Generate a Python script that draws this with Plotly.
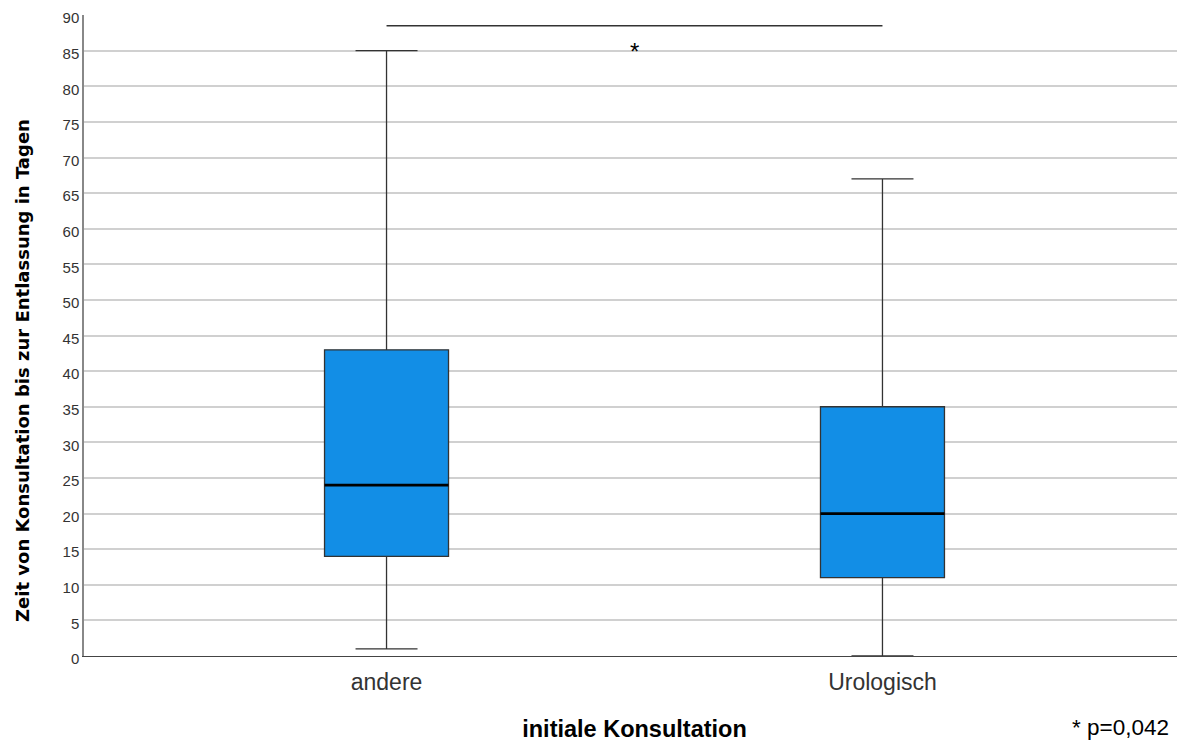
import plotly.graph_objects as go

categories = ["andere", "Urologisch"]
lower = [1, 0]
q1 = [14, 11]
median = [24, 20]
q3 = [43, 35]
upper = [85, 67]
y_ticks = list(range(0, 95, 5))
sig_level = 88.5
sig_text = "*"
p_text = "* p=0,042"
y_title = "<b>Zeit von Konsultation bis zur Entlassung in Tagen</b>"

xpos = list(range(len(categories)))
half = 0.125

fig = go.Figure()
fig.add_trace(go.Box(
    x=xpos, q1=q1, median=median, q3=q3, lowerfence=lower, upperfence=upper,
    width=2 * half, whiskerwidth=0.5,
    fillcolor="rgb(18,142,230)",
    line=dict(color="#333333", width=1.3),
    boxpoints=False, hoverinfo="skip", showlegend=False,
))
for i, m in enumerate(median):
    fig.add_trace(go.Scatter(
        x=[xpos[i] - half, xpos[i] + half], y=[m, m], mode="lines",
        line=dict(color="black", width=2.8), showlegend=False, hoverinfo="skip",
    ))
# significance bar
fig.add_trace(go.Scatter(
    x=[xpos[0], xpos[1]], y=[sig_level, sig_level], mode="lines",
    line=dict(color="#333333", width=1.3), showlegend=False, hoverinfo="skip",
))
fig.add_annotation(x=(xpos[0] + xpos[1]) / 2, y=sig_level, text=sig_text,
                   showarrow=False, yanchor="top", yshift=-10,
                   font=dict(family="Liberation Sans, Arial", size=24, color="black"))
fig.add_annotation(xref="paper", yref="paper", x=0.9875, y=-0.112, xanchor="right",
                   yanchor="middle", text=p_text, showarrow=False,
                   font=dict(family="Liberation Sans, Arial", size=22.5, color="black"))
# y-axis title (placed as annotation to match the offset position)
fig.add_annotation(xref="paper", yref="paper", x=0, xshift=-62, y=0.4446,
                   xanchor="center", yanchor="middle", textangle=-90,
                   text=y_title, showarrow=False,
                   font=dict(family="DejaVu Sans", size=18, color="black"))

fig.update_layout(
    width=1177, height=734,
    margin=dict(l=76, r=0, t=7, b=86),
    plot_bgcolor="white", paper_bgcolor="white",
    font=dict(family="Liberation Sans, Arial", color="#333333"),
    xaxis=dict(
        range=[-0.61, 1.61], tickvals=xpos, ticktext=categories,
        showgrid=False, zeroline=False, showline=True, linecolor="#444444", linewidth=1,
        ticks="", ticklabelstandoff=5, tickfont=dict(size=23, color="#333333"),
        automargin=False,
        title=dict(text="<b>initiale Konsultation</b>",
                   font=dict(family="Liberation Sans, Arial", size=23.5, color="black"),
                   standoff=26),
    ),
    yaxis=dict(
        range=[0, 90.01], tickvals=y_ticks, showgrid=True, gridcolor="#d0d0d0", gridwidth=1.6,
        zeroline=False, showline=True, linecolor="#888888", linewidth=1.5,
        ticks="", tickfont=dict(size=15, color="#333333"), automargin=False,
        ticklabeloverflow="allow", ticklabelshift=3,
    ),
)
fig.write_html("out.html")
